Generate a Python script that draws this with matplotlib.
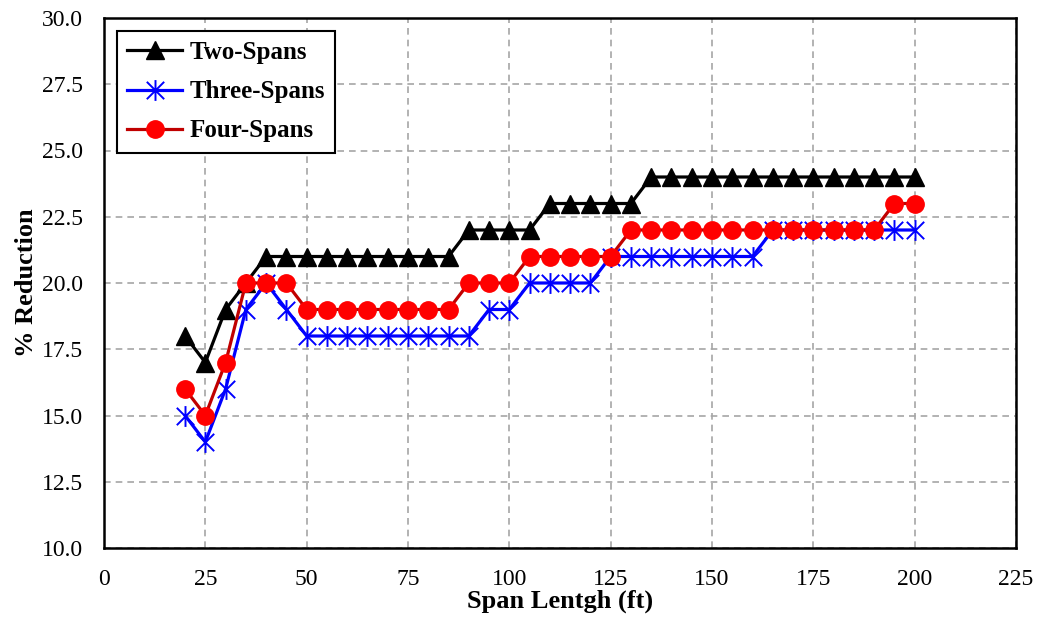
import matplotlib
matplotlib.use("Agg")
import matplotlib.pyplot as plt
from matplotlib.path import Path
import numpy as np

span_ft = list(range(20, 205, 5))

two_spans = [18, 17, 19, 20] + [21] * 10 + [22] * 4 + [23] * 5 + [24] * 14
three_spans = [15, 14, 16, 19, 20, 19] + [18] * 9 + [19, 19] + [20] * 4 + [21] * 8 + [22] * 8
four_spans = [16, 15, 17, 20, 20, 20] + [19] * 8 + [20, 20, 20] + [21] * 5 + [22] * 13 + [23, 23]

x_ticks = list(range(0, 226, 25))
y_ticks = list(np.arange(10, 30.1, 2.5))

plt.rcParams['font.family'] = ['Liberation Serif', 'DejaVu Serif']

# excel-like star marker: an X with a vertical bar through it
star = Path([(-1, -1), (1, 1), (-1, 1), (1, -1), (0, -1.2), (0, 1.2)],
            [Path.MOVETO, Path.LINETO] * 3)

W, H = 1039, 621
fig = plt.figure(figsize=(W / 100, H / 100), dpi=100)
ax = fig.add_axes([104 / W, 1 - 548 / H, 912 / W, 530 / H])

ax.plot(span_ft, two_spans, color='black', lw=2.3, marker='^', ms=13,
        mfc='black', mec='black', label='Two-Spans', zorder=3)
ax.plot(span_ft, three_spans, color='#0000FF', lw=2.3, marker=star, ms=15,
        mew=1.4, mec='#0000FF', label='Three-Spans', zorder=4)
ax.plot(span_ft, four_spans, color='#C00000', lw=2.3, marker='o', ms=12.5,
        mfc='#FF0000', mec='#FF0000', label='Four-Spans', zorder=5)

ax.set_xlim(0, 225)
ax.set_ylim(10, 30)
ax.set_xticks(x_ticks)
ax.set_yticks(y_ticks)
ax.set_yticklabels([f'{v:.1f}' for v in y_ticks])
ax.tick_params(axis='both', length=0, labelsize=17)
ax.tick_params(axis='x', pad=15)
ax.tick_params(axis='y', pad=15)
ax.grid(True, color='#A6A6A6', linestyle=(0, (4, 3)), lw=1.2)
ax.set_axisbelow(True)
for s in ax.spines.values():
    s.set_linewidth(1.8)

ax.set_xlabel('Span Lentgh (ft)', fontsize=19, fontweight='bold', labelpad=0)
ax.set_ylabel('% Reduction', fontsize=19, fontweight='bold', labelpad=3)

leg = ax.legend(loc='upper left', bbox_to_anchor=(117 / W, 1 - 31 / H),
                bbox_transform=fig.transFigure, borderaxespad=0,
                prop={'weight': 'bold', 'size': 18},
                frameon=True, fancybox=False, edgecolor='black', framealpha=1,
                borderpad=0.4, handlelength=2.2, handletextpad=0.3,
                labelspacing=0.65)
leg.get_frame().set_linewidth(1.5)

fig.savefig('out.png', dpi=100)
